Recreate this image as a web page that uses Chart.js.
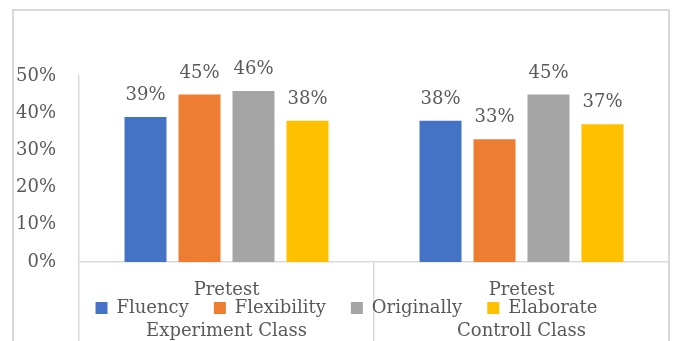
<!DOCTYPE html>
<html>
<head>
<meta charset="utf-8">
<script src="https://cdn.jsdelivr.net/npm/chart.js@4"></script>
<style>
  html, body { margin: 0; padding: 0; background: #fff; }
  #wrap { position: relative; width: 674px; height: 341px; overflow: hidden; }
  #frame { position: absolute; left: 12px; top: 9px; width: 658px; height: 400px;
           border: 2px solid #d9d9d9; box-sizing: border-box; pointer-events: none; }
</style>
</head>
<body>
<div id="wrap">
  <canvas id="chart"></canvas>
  <div id="frame"></div>
</div>
<script>
// data
var categories = [['Pretest', 'Experiment Class'], ['Pretest', 'Controll Class']];
var seriesNames = ['Fluency', 'Flexibility', 'Originally', 'Elaborate'];
var fluency = [0.39, 0.38];
var flexibility = [0.45, 0.33];
var originally = [0.46, 0.45];
var elaborate = [0.38, 0.37];
var yTicks = [0, 0.1, 0.2, 0.3, 0.4, 0.5];

var colors = ['#4472C4', '#ED7D31', '#A5A5A5', '#FFC000'];
var textColor = '#595959';
var lineColor = '#d9d9d9';
var fontFamily = '"DejaVu Serif", serif';

function pct(v) {
    return Math.round(v * 100) + '%';
}

// labels above each bar
var valueLabels = {
    id: 'valueLabels',
    afterDatasetsDraw(chart) {
        var ctx = chart.ctx;
        ctx.save();
        ctx.font = '18px ' + fontFamily;
        ctx.fillStyle = textColor;
        ctx.textAlign = 'center';
        ctx.textBaseline = 'alphabetic';
        chart.data.datasets.forEach((ds, i) => {
            chart.getDatasetMeta(i).data.forEach((bar, j) => {
                ctx.fillText(pct(ds.data[j]), bar.x, bar.y - 17);
            });
        });
        ctx.restore();
    }
};

// excel puts the legend between the two rows of category labels,
// so the legend takes no room in the layout and is moved up afterwards
var legendMove = {
    id: 'legendMove',
    beforeLayout(chart) {
        var lg = chart.legend;
        if (lg && !lg._noHeight) {
            var fit = lg.fit;
            lg.fit = function () { fit.call(this); this.height = 0; };
            lg._noHeight = true;
        }
    },
    afterLayout(chart) {
        var lg = chart.legend;
        lg.top = 299 - lg.options.labels.padding;
        lg.height = 70;
        lg.bottom = lg.top + lg.height;
        lg.left += 12;
        lg.right += 12;
    }
};

var datasets = [fluency, flexibility, originally, elaborate].map((d, i) => ({
    label: seriesNames[i],
    data: d,
    backgroundColor: colors[i],
    categoryPercentage: 0.732,
    barPercentage: 0.778
}));

var ctx = document.getElementById('chart');
var myChart = new Chart(ctx, {
    type: 'bar',
    data: { labels: categories, datasets: datasets },
    plugins: [valueLabels, legendMove],
    options: {
        responsive: true,
        maintainAspectRatio: false,
        animation: false,
        layout: { padding: { top: 76, right: 5, left: 0, bottom: 0 } },
        plugins: {
            tooltip: { enabled: false },
            legend: {
                position: 'bottom',
                labels: {
                    boxWidth: 12,
                    boxHeight: 12,
                    padding: 25,
                    color: textColor,
                    font: { family: fontFamily, size: 18 }
                }
            }
        },
        scales: {
            x: {
                grid: { display: true, offset: true, drawOnChartArea: false, tickLength: 80, color: lineColor, lineWidth: 1.5 },
                border: { display: true, color: lineColor, width: 1.5 },
                ticks: {
                    padding: -72,
                    color: textColor,
                    font: { family: fontFamily, size: 18, lineHeight: '41px' }
                },
                afterFit: s => { s.height = 79; }
            },
            y: {
                min: 0,
                max: 0.5,
                afterBuildTicks: s => { s.ticks = yTicks.map(v => ({ value: v })); },
                grid: { display: false },
                border: { display: true, color: lineColor, width: 1.5 },
                ticks: {
                    padding: 15,
                    color: textColor,
                    font: { family: fontFamily, size: 18 },
                    callback: v => pct(v)
                },
                afterFit: s => { s.width = 79; }
            }
        }
    }
});
</script>
</body>
</html>
